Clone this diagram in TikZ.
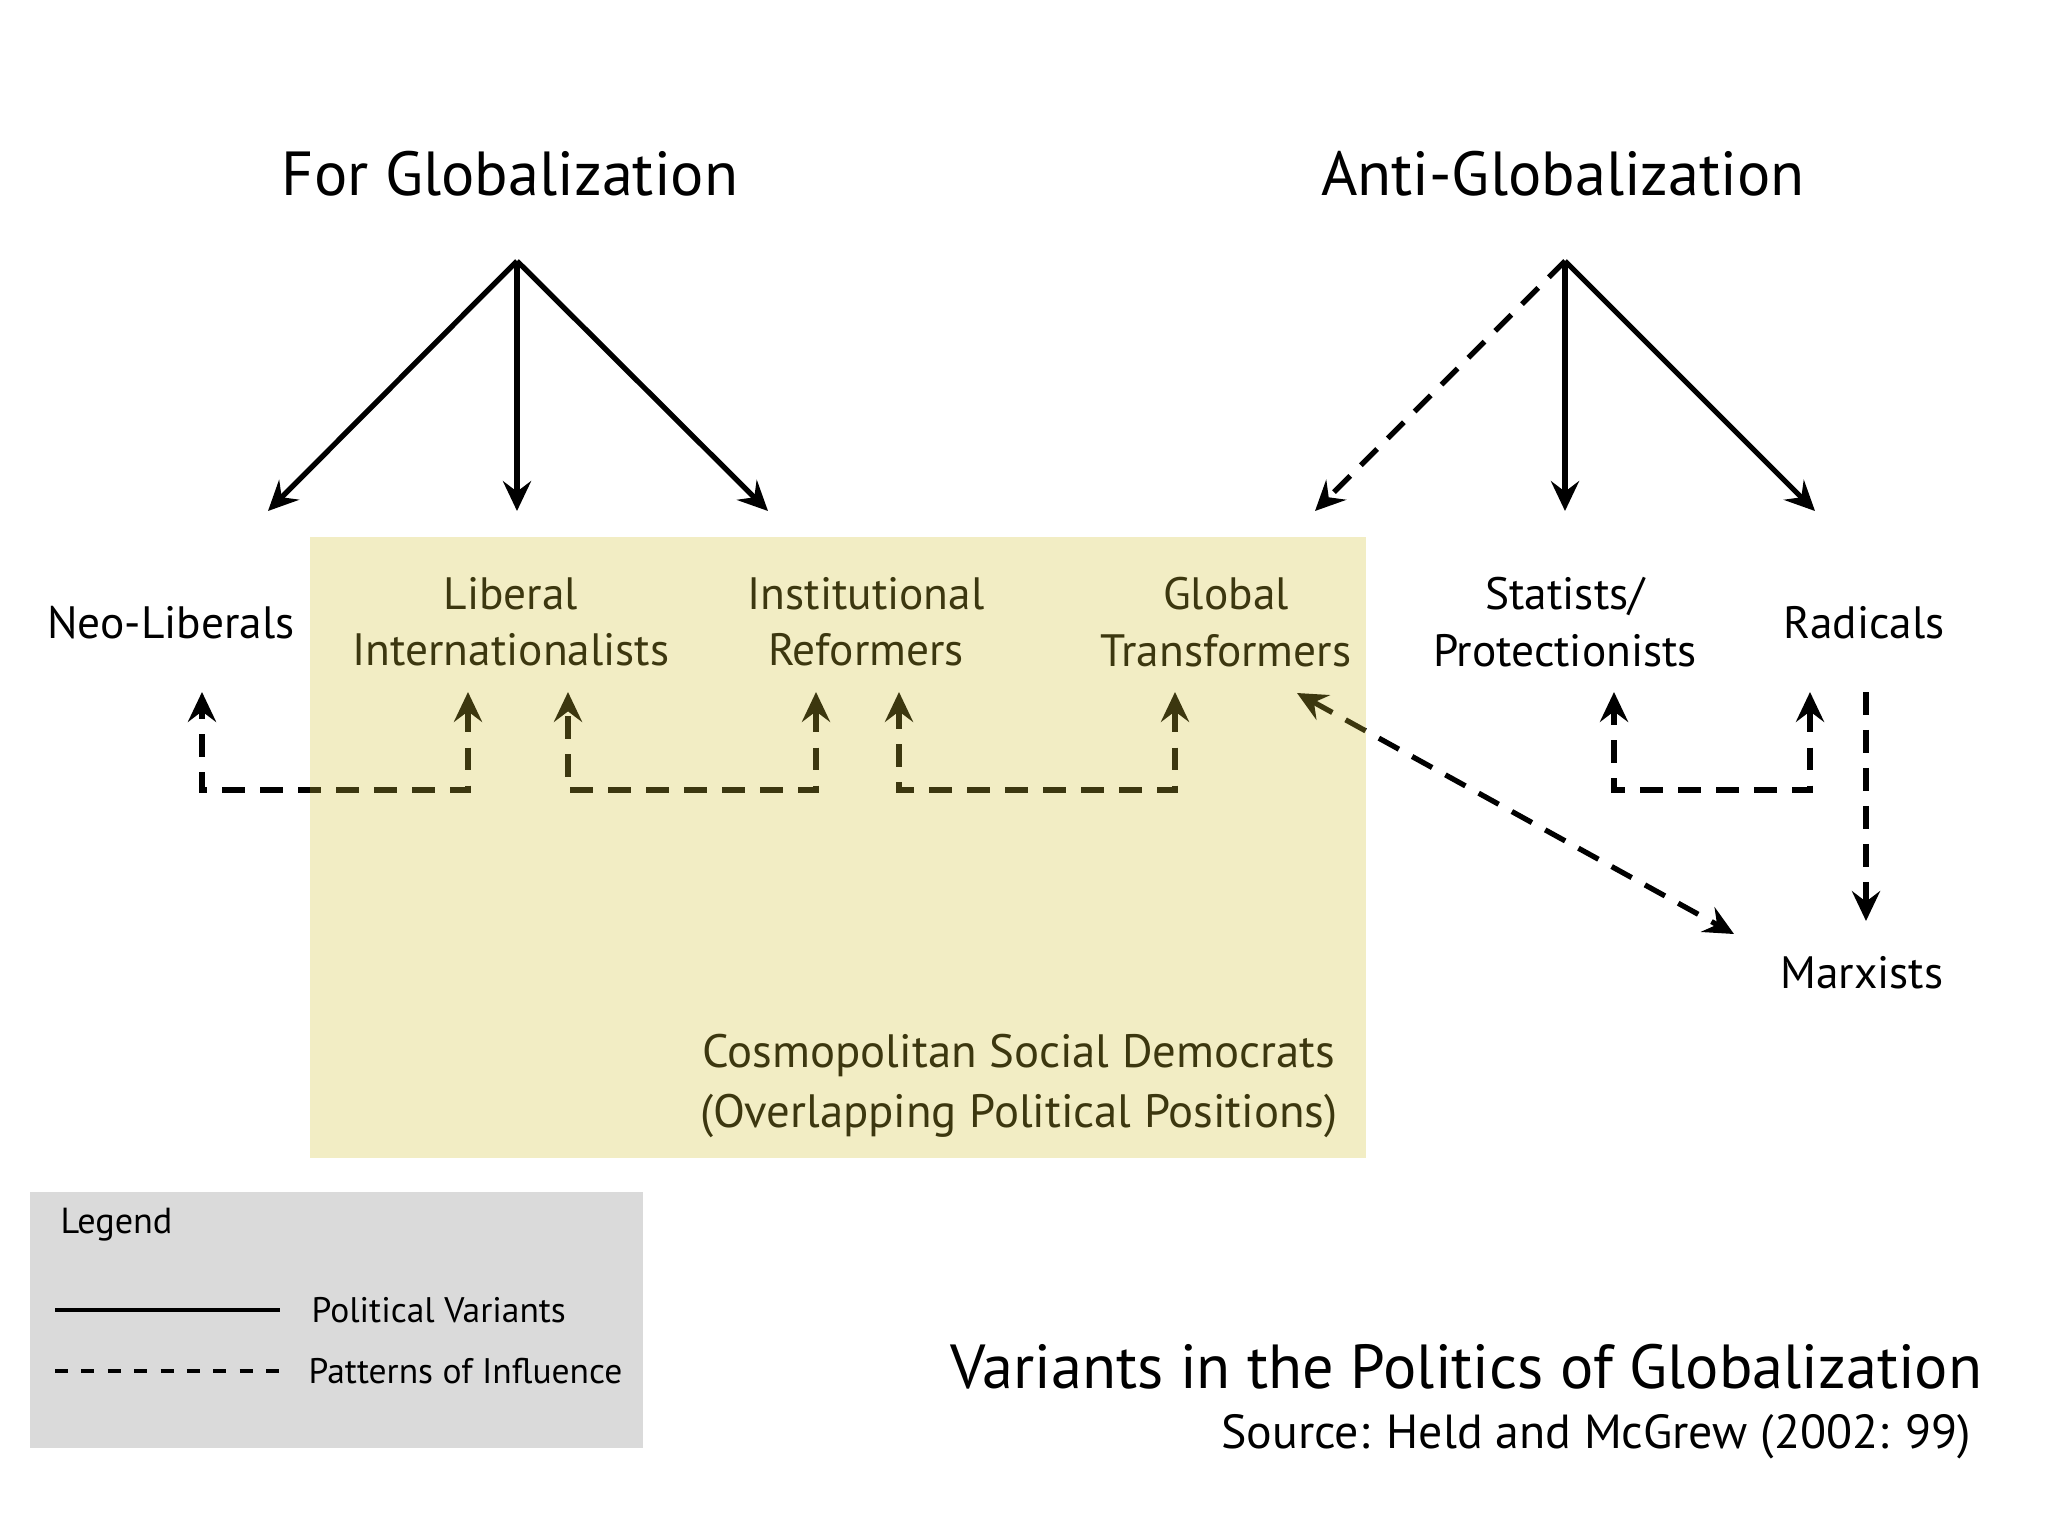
\documentclass[tikz,border=0pt]{standalone}
\usepackage{fontspec}
\setmainfont{PT Sans}
\usetikzlibrary{arrows.meta, calc, positioning}
\definecolor{boxyellow}{RGB}{210,192,52}
\definecolor{legendgray}{RGB}{218,218,218}
\newcommand*{\fsz}[2]{\fontsize{#1}{#2}\selectfont}

\begin{document}
\begin{tikzpicture}[x=0.01cm, y=-0.01cm,
  >={Stealth[length=8.5pt, width=8pt, inset=3pt]},
  variant/.style={line width=1.5pt, ->},
  influence/.style={line width=1.5pt, dash pattern=on 6.5pt off 4.3pt},
  label/.style={align=center, inner sep=0pt, font=\fsz{12.9}{16}},
  heading/.style={inner sep=0pt, font=\fsz{17.7}{20}}]
 \useasboundingbox (0,0) rectangle (2048,1536);

 \node[heading] (forglob) at (510,174) {For Globalization};
 \node[heading] (antiglob) at (1563,174) {Anti-Globalization};
 \coordinate (forapex) at (517,261);
 \coordinate (antiapex) at (1565,261);

 \node[label] (neo) at (171,623) {Neo-Liberals};
 \node[label] (libint) at (511,622) {Liberal\\Internationalists};
 \node[label] (instref) at (866,622) {Institutional\\Reformers};
 \node[label] (globtr) at (1226,622) {Global\\Transformers};
 \node[label] (statprot) at (1565,622) {Statists/\\Protectionists};
 \node[label] (radicals) at (1864,623) {Radicals};
 \node[label] (marxists) at (1862,973) {Marxists};

 \draw[variant] (forapex) -- (268,511) coordinate (neotip);
 \draw[variant] (forapex) -- (forapex|-neotip) coordinate (libtip);
 \draw[variant] (forapex) -- (768,511) coordinate (insttip);
 \draw[variant, influence, ->] (antiapex) -- (1315,511) coordinate (globtip);
 \draw[variant] (antiapex) -- (antiapex|-globtip) coordinate (stattip);
 \draw[variant] (antiapex) -- (1815,511) coordinate (radtip);

 % influence brackets
 \coordinate (neoin) at (202,692);
 \coordinate (libin) at (468,692);
 \coordinate (libout) at (568,692);
 \coordinate (instin) at (816,692);
 \coordinate (instout) at (899,692);
 \coordinate (globin) at (1175,692);
 \coordinate (statin) at (1614,692);
 \coordinate (radin) at (1810,692);
 \coordinate (radout) at (1866,692);
 \coordinate (marxin) at (1866,921);
 \coordinate (globdiag) at (1297,693);
 \coordinate (marxdiag) at (1734,934);
 \draw[influence, <->] (libin) -- ++(0,98) -| (neoin);
 \draw[influence, <->] (instin) -- ++(0,98) -| (libout);
 \draw[influence, <->] (globin) -- ++(0,98) -| (instout);
 \draw[influence, <->] (radin) -- ++(0,98) -| (statin);
 \draw[influence, ->] (radout) -- (marxin);
 \draw[influence, <->] (globdiag) -- (marxdiag);

 \node[align=center, inner sep=0pt, font=\fsz{13.3}{17}] (cosmo) at (1019,1086)
   {Cosmopolitan Social Democrats\\(Overlapping Political Positions)};
 \fill[boxyellow, fill opacity=0.29] (310,537) rectangle (1366,1158);

 % legend
 \fill[legendgray] (30,1192) coordinate (legnw) rectangle (643,1448);
 \node[anchor=west, inner sep=0pt, font=\fsz{10.3}{12}] (legend) at (60,1225) {Legend};
 \node[anchor=west, inner sep=0pt, font=\fsz{10.1}{12}] (polvar) at (311,1310) {Political Variants};
 \node[anchor=west, inner sep=0pt, font=\fsz{10.1}{12}] (patinf) at (308,1371) {Patterns of Influence};
 \draw[line width=1pt] (55,1310) -- (280,1310);
 \draw[line width=1pt, dash pattern=on 3.7pt off 3.8pt] (55,1371) -- (280,1371);

 \node[anchor=east, inner sep=0pt, font=\fsz{17.7}{20}] (title) at (1983,1367)
   {Variants in the Politics of Globalization};
 \node[anchor=east, inner sep=0pt, font=\fsz{13.6}{16}] (source) at (1972,1437)
   {Source: Held and McGrew (2002: 99)};
\end{tikzpicture}
\end{document}
